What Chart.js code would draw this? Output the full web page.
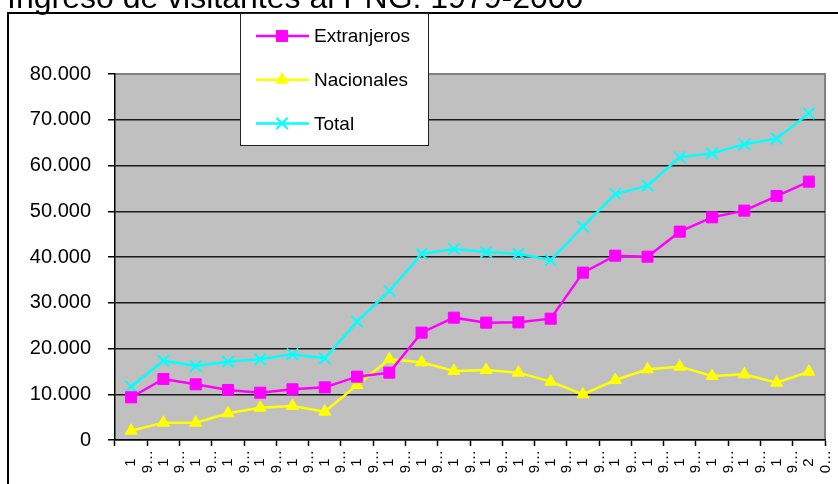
<!DOCTYPE html>
<html>

<head>
    <title>Ingreso de visitantes al PNG</title>
    <style>
        body { margin: 0; background: #fff; }
        canvas { display: block; }
    </style>
</head>

<body>
    <canvas id="lineChart" width="838" height="484"></canvas>

    <script src="https://cdn.jsdelivr.net/npm/chart.js"></script>
    <script>
        // Years on the category axis
        const years = ['1979', '1980', '1981', '1982', '1983', '1984', '1985', '1986', '1987', '1988', '1989',
            '1990', '1991', '1992', '1993', '1994', '1995', '1996', '1997', '1998', '1999', '2000'];

        // Visitors per year
        const extranjeros = [9330, 13330, 12170, 10930, 10340, 11080, 11510, 13840, 14720, 23460, 26740,
            25650, 25720, 26520, 36580, 40290, 40070, 45540, 48670, 50130, 53330, 56470];
        const nacionales = [2040, 3790, 3790, 5830, 7070, 7430, 6190, 12020, 17630, 16980, 15080,
            15300, 14720, 12750, 9980, 13110, 15450, 16030, 13990, 14350, 12530, 14930];
        const total = [11660, 17340, 16170, 17120, 17630, 18730, 17850, 25870, 32570, 40660, 41750,
            41090, 40730, 39340, 46630, 53770, 55590, 61790, 62660, 64630, 65870, 71400];

        // Y tick values
        const yTicks = [0, 10000, 20000, 30000, 40000, 50000, 60000, 70000, 80000];

        const chartTitle = 'Ingreso de visitantes al PNG: 1979-2000';
        const FONT = "'Liberation Sans', Arial, sans-serif";

        // the truncated, wrapped year label the original shows ("1" / "9...")
        const shortLabel = (y) => [y[0] + '\u00a0\u00a0', y[1] + '\u2026'];
        const dotted = (v) => String(v).replace(/\B(?=(\d{3})+(?!\d))/g, '.');

        const frame = {
            id: 'frame',
            beforeDraw(chart) {
                const ctx = chart.ctx;
                const a = chart.chartArea;
                ctx.save();
                // title, partly cut off at the top
                ctx.fillStyle = '#000';
                ctx.font = '32px ' + FONT;
                ctx.textBaseline = 'alphabetic';
                ctx.fillText(chartTitle, 7, 8);
                // outer chart border
                ctx.strokeStyle = '#000';
                ctx.lineWidth = 2;
                ctx.strokeRect(8, 13, 900, 600);
                // plot area
                ctx.fillStyle = '#c0c0c0';
                ctx.fillRect(a.left, a.top, a.right - a.left, a.bottom - a.top);
                ctx.strokeStyle = '#808080';
                ctx.lineWidth = 2;
                ctx.beginPath();
                ctx.moveTo(a.left, a.top);
                ctx.lineTo(a.right, a.top);
                ctx.lineTo(a.right, a.bottom);
                ctx.stroke();
                ctx.restore();
            },
            afterDraw(chart) {
                const ctx = chart.ctx;
                const box = { x: 240, y: 13, w: 188, h: 132 };
                ctx.save();
                ctx.fillStyle = '#fff';
                ctx.fillRect(box.x, box.y, box.w, box.h);
                ctx.strokeStyle = '#222';
                ctx.lineWidth = 1;
                ctx.strokeRect(box.x + 0.5, box.y + 0.5, box.w, box.h);
                ctx.font = '19px ' + FONT;
                ctx.textBaseline = 'middle';
                chart.data.datasets.forEach((ds, i) => {
                    const y = box.y + 23 + i * 43.7;
                    ctx.strokeStyle = ds.borderColor;
                    ctx.lineWidth = 2.5;
                    ctx.beginPath();
                    ctx.moveTo(box.x + 16, y);
                    ctx.lineTo(box.x + 69, y);
                    ctx.stroke();
                    ctx.fillStyle = ds.backgroundColor;
                    ctx.strokeStyle = ds.borderColor;
                    ctx.lineWidth = ds.pointBorderWidth || 1;
                    Chart.helpers.drawPoint(ctx, {
                        pointStyle: ds.pointStyle,
                        radius: ds.pointRadius,
                        borderWidth: ds.pointBorderWidth || 1,
                        rotation: 0
                    }, box.x + 42, y);
                    ctx.fillStyle = '#000';
                    ctx.fillText(ds.label, box.x + 74, y + 1);
                });
                ctx.restore();
            }
        };

        const mkSet = (label, data, color, style, radius, bw) => ({
            label: label,
            data: data,
            borderColor: color,
            backgroundColor: color,
            borderWidth: 2.5,
            pointStyle: style,
            pointRadius: radius,
            pointHoverRadius: radius,
            pointBorderColor: color,
            pointBackgroundColor: color,
            pointBorderWidth: bw,
            tension: 0,
            clip: false
        });

        const canvas = document.getElementById('lineChart');
        new Chart(canvas, {
            type: 'line',
            data: {
                labels: years,
                datasets: [
                    mkSet('Extranjeros', extranjeros, '#ff00ff', 'rect', 7.8, 1),
                    mkSet('Nacionales', nacionales, '#ffff00', 'triangle', 7, 1),
                    mkSet('Total', total, '#00ffff', 'crossRot', 8, 2)
                ]
            },
            options: {
                responsive: false,
                animation: false,
                layout: { padding: { left: 0, right: 13, top: 74, bottom: 0 } },
                plugins: {
                    legend: { display: false },
                    title: { display: false },
                    tooltip: { enabled: false }
                },
                scales: {
                    x: {
                        offset: true,
                        afterFit: (s) => { s.height = 44; s.paddingLeft = 0; s.paddingRight = 0; },
                        grid: {
                            offset: true,
                            drawOnChartArea: false,
                            tickLength: 6,
                            tickColor: '#000',
                            tickWidth: 1.5
                        },
                        border: { color: '#000', width: 1.5 },
                        ticks: {
                            autoSkip: false,
                            minRotation: 90,
                            maxRotation: 90,
                            padding: 4,
                            color: '#000',
                            font: { family: FONT, size: 15, lineHeight: 1.1 },
                            callback: function (v, i) { return shortLabel(years[i]); }
                        }
                    },
                    y: {
                        min: yTicks[0],
                        max: yTicks[yTicks.length - 1],
                        afterFit: (s) => { s.width = 115; },
                        afterBuildTicks: (s) => { s.ticks = yTicks.map(v => ({ value: v })); },
                        grid: {
                            color: (c) => c.tick && c.tick.value === yTicks[yTicks.length - 1] ? '#808080' : '#1a1a1a',
                            lineWidth: 1.5,
                            tickColor: '#000',
                            tickLength: 7
                        },
                        border: { color: '#000', width: 1.5 },
                        ticks: {
                            padding: 17,
                            color: '#000',
                            font: { family: FONT, size: 20 },
                            callback: (v) => dotted(v)
                        }
                    }
                }
            },
            plugins: [frame]
        });
    </script>
</body>

</html>
